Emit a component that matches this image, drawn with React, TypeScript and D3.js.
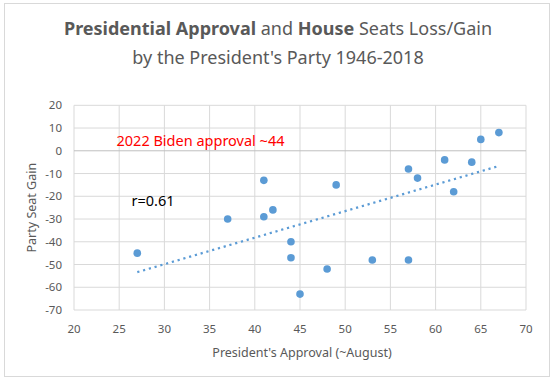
import React from "react";
import * as d3 from "d3";

const approval = [27, 37, 41, 41, 42, 44, 44, 45, 48, 49, 53, 57, 57, 58, 61, 62, 64, 65, 67];
const seatGain = [-45, -30, -29, -13, -26, -40, -47, -63, -52, -15, -48, -48, -8, -12, -4, -18, -5, 5, 8];
const xTicks = [20, 25, 30, 35, 40, 45, 50, 55, 60, 65, 70];
const yTicks = [20, 10, 0, -10, -20, -30, -40, -50, -60, -70];

const W = 554;
const H = 381;
const font = "'Noto Sans', 'Open Sans', sans-serif";
const grey = "#595959";

export default function App() {
  const x = d3.scaleLinear().domain([20, 70]).range([74, 526]);
  const y = d3.scaleLinear().domain([-70, 20]).range([310, 105.3]);

  const mx = d3.mean(approval) as number;
  const my = d3.mean(seatGain) as number;
  let sxy = 0, sxx = 0;
  approval.forEach((v, i) => {
    sxy += (v - mx) * (seatGain[i] - my);
    sxx += (v - mx) * (v - mx);
  });
  const slope = sxy / sxx;
  const intercept = my - slope * mx;
  const [x0, x1] = d3.extent(approval) as [number, number];
  const trend = d3.line<number>().x((d) => x(d)).y((d) => y(intercept + slope * d))([x0, x1]) as string;

  return (
    <svg width={W} height={H} style={{ position: "absolute", left: 0, top: 0 }}>
      <rect x={0} y={0} width={W} height={H} fill="#fff" />
      <rect x={4.5} y={3.5} width={545} height={373} fill="#fff" stroke="#d9d9d9" />
      <g fontFamily={font} fill={grey} textAnchor="middle">
        <text x={278} y={35} fontSize={18}>
          <tspan fontWeight="bold">Presidential Approval</tspan>
          <tspan> and </tspan>
          <tspan fontWeight="bold">House</tspan>
          <tspan> Seats Loss/Gain</tspan>
        </text>
        <text x={278} y={64} fontSize={18}>by the President's Party 1946-2018</text>
      </g>
      {xTicks.map((t) => (
        <line key={"gx" + t} x1={x(t)} x2={x(t)} y1={y(20)} y2={y(-70)} stroke="#d9d9d9" strokeWidth={1} />
      ))}
      {yTicks.map((t) => (
        <line key={"gy" + t} x1={x(20)} x2={x(70)} y1={y(t)} y2={y(t)} stroke={t === 0 ? "#bfbfbf" : "#d9d9d9"} strokeWidth={1} />
      ))}
      <g fontFamily={font} fill={grey} fontSize={11.5}>
        {yTicks.map((t) => (
          <text key={"ly" + t} x={62} y={y(t) + 4} textAnchor="end">{t}</text>
        ))}
        {xTicks.map((t) => (
          <text key={"lx" + t} x={x(t)} y={333} textAnchor="middle">{t}</text>
        ))}
        <text x={302} y={357} textAnchor="middle" fontSize={12.5}>President's Approval (~August)</text>
        <text transform={`translate(36,${(y(20) + y(-70)) / 2}) rotate(-90)`} textAnchor="middle" fontSize={12.5}>Party Seat Gain</text>
      </g>
      <path d={trend} fill="none" stroke="#5b9bd5" strokeWidth={2.25} strokeDasharray="2.2 3.8" />
      {approval.map((v, i) => (
        <circle key={"p" + i} cx={x(v)} cy={y(seatGain[i])} r={3.8} fill="#5b9bd5" />
      ))}
      <text x={116.5} y={146} fontFamily={font} fontSize={14.5} fill="#ff0000">2022 Biden approval ~44</text>
      <text x={131.5} y={206} fontFamily={font} fontSize={14.5} fill="#000">r=0.61</text>
    </svg>
  );
}
